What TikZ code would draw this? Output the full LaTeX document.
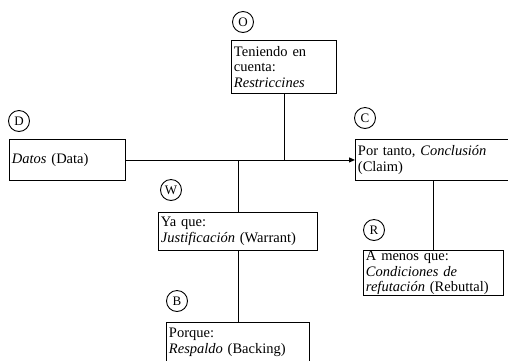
\documentclass[tikz,border=0pt]{standalone}
\usepackage{fontspec}
\setmainfont{Liberation Serif}
\usetikzlibrary{arrows.meta}
\begin{document}
\begin{tikzpicture}[x=1pt,y=-1pt,
  box/.style={draw, line width=0.9pt, anchor=north west, align=left, inner xsep=2.5pt, inner ysep=0pt, font=\fontsize{14.5}{15.5}\selectfont},
  lbl/.style={draw, circle, line width=0.9pt, minimum size=21pt, inner sep=0pt, font=\fontsize{13}{13}\selectfont},
  link/.style={line width=0.9pt}]
\useasboundingbox (0,0) rectangle (508,360);
\node[box, text width=100pt, minimum height=53pt] (O) at (231,40) {Teniendo en\\cuenta:\\\textit{Restriccines}};
\node[box, text width=111pt, minimum height=41pt] (D) at (9,139) {\textit{Datos} (Data)};
\node[box, text width=151pt, minimum height=41pt] (C) at (355,139) {Por tanto, \textit{Conclusión}\\(Claim)};
\node[box, text width=154pt, minimum height=38pt] (W) at (158,212) {Ya que:\\\textit{Justificación} (Warrant)};
\node[box, text width=135pt, minimum height=45pt] (R) at (363,250) {A menos que:\\\textit{Condiciones de}\\\textit{refutación} (Rebuttal)};
\node[box, text width=138pt, minimum height=40pt] (B) at (166,322) {Porque:\\\textit{Respaldo} (Backing)};
\node[lbl] (cO) at (243,22) {O};
\node[lbl] (cD) at (19,121) {D};
\node[lbl] (cC) at (365,118) {C};
\node[lbl] (cW) at (171,190) {W};
\node[lbl] (cR) at (374,230) {R};
\node[lbl] (cB) at (177,301) {B};
\draw[link,-{Triangle[length=6pt,width=5pt]}] (D.east) -- (C.west);
\draw[link] (O.south) -- (O.south |- D.east);
\draw[link] (W.north) -- (W.north |- D.east);
\draw[link] (W.south) -- (B.north);
\draw[link] (C.south) -- (R.north);
\end{tikzpicture}
\end{document}
